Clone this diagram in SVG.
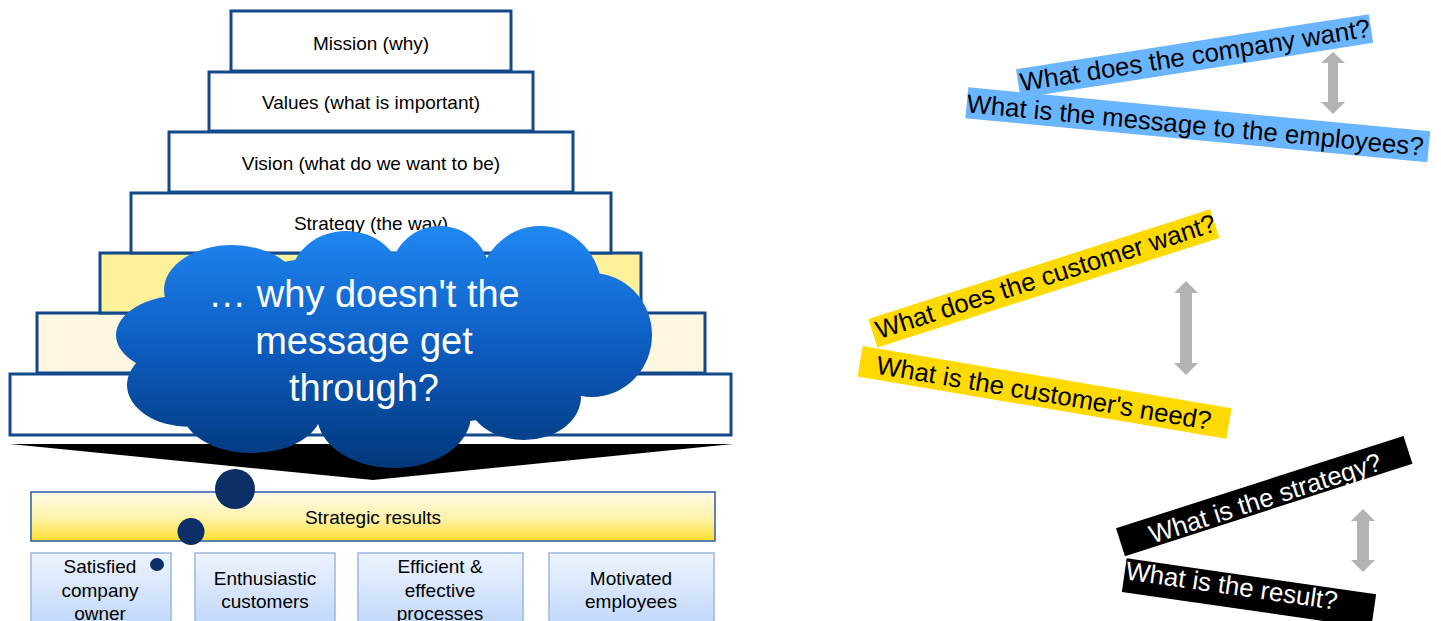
<svg xmlns="http://www.w3.org/2000/svg" width="1441" height="621" viewBox="0 0 1441 621">
<style>
.step{stroke:#12498a;stroke-width:3}
.t{font-family:"Liberation Sans",Arial,sans-serif;font-size:19px;fill:#000;text-anchor:middle}
.q{font-family:"Liberation Sans",Arial,sans-serif;font-size:25.8px;fill:#000}
.qw{font-family:"Liberation Sans",Arial,sans-serif;font-size:25.8px;fill:#fff}
.c{font-family:"Liberation Sans",Arial,sans-serif;font-size:38px;fill:#fff;text-anchor:middle}
.res{fill:url(#gBlue);stroke:#9ab8e0;stroke-width:1.5}
.arr{fill:#b3b3b3}
.dot{fill:#0b2f66}
</style>
<defs>
<linearGradient id="gCloud" gradientUnits="userSpaceOnUse" x1="0" y1="225" x2="0" y2="468">
<stop offset="0" stop-color="#1f88f4"/>
<stop offset="0.5" stop-color="#0d5cc0"/>
<stop offset="1" stop-color="#02387a"/>
</linearGradient>
<linearGradient id="gYel" x1="0" y1="0" x2="0" y2="1">
<stop offset="0" stop-color="#fffbe8"/>
<stop offset="0.55" stop-color="#fff2a8"/>
<stop offset="1" stop-color="#ffdf2e"/>
</linearGradient>
<linearGradient id="gBlue" x1="0" y1="0" x2="0" y2="1">
<stop offset="0" stop-color="#eef4ff"/>
<stop offset="1" stop-color="#bcd5fb"/>
</linearGradient>
</defs>
<rect width="1441" height="621" fill="#fff"/>

<g id="step-white"><rect class="step" x="10" y="374" width="721" height="61" fill="#fff"/></g>
<g id="step-lightyellow"><rect class="step" x="37" y="313" width="668" height="60" fill="#fef8e0"/></g>
<g id="step-yellow"><rect class="step" x="100" y="253" width="541" height="60" fill="#fff09c"/></g>
<g id="strategy"><rect class="step" x="131" y="193" width="480" height="60" fill="#fff"/><text class="t" x="371" y="230">Strategy (the way)</text></g>
<g id="vision"><rect class="step" x="169" y="132" width="404" height="60" fill="#fff"/><text class="t" x="371" y="170">Vision (what do we want to be)</text></g>
<g id="values"><rect class="step" x="209" y="72" width="324" height="59" fill="#fff"/><text class="t" x="371" y="109">Values (what is important)</text></g>
<g id="mission"><rect class="step" x="231" y="11" width="280" height="60" fill="#fff"/><text class="t" x="371" y="50">Mission (why)</text></g>

<g id="funnel"><polygon points="10,444 733,444 373,480" fill="#000"/></g>

<g id="strategic-results"><rect x="31" y="492" width="684" height="49" fill="url(#gYel)" stroke="#2a5ca8" stroke-width="1.5"/><text class="t" x="373" y="524">Strategic results</text></g>

<g id="owner"><rect class="res" x="31" y="553" width="140" height="80"/><text class="t" x="100" y="573">Satisfied</text><text class="t" x="100" y="597">company</text><text class="t" x="100" y="620">owner</text></g>
<g id="customers"><rect class="res" x="195" y="553" width="140" height="80"/><text class="t" x="265" y="585">Enthusiastic</text><text class="t" x="265" y="608">customers</text></g>
<g id="processes"><rect class="res" x="358" y="553" width="165" height="80"/><text class="t" x="440" y="573">Efficient &amp;</text><text class="t" x="440" y="597">effective</text><text class="t" x="440" y="620">processes</text></g>
<g id="employees"><rect class="res" x="549" y="553" width="165" height="80"/><text class="t" x="631" y="585">Motivated</text><text class="t" x="631" y="608">employees</text></g>

<g id="cloud">
<path fill="url(#gCloud)" d="M165,340 a220,88 0 1,0 440,0 a220,88 0 1,0 -440,0 Z
M164,290 a68,45 0 1,0 136,0 a68,45 0 1,0 -136,0 Z
M290,281 a56,50 0 1,0 112,0 a56,50 0 1,0 -112,0 Z
M390,276 a50,50 0 1,0 100,0 a50,50 0 1,0 -100,0 Z
M478,292 a62,66 0 1,0 124,0 a62,66 0 1,0 -124,0 Z
M532,335 a60,62 0 1,0 120,0 a60,62 0 1,0 -120,0 Z
M467,397 a57,43 0 1,0 114,0 a57,43 0 1,0 -114,0 Z
M317,415 a77,53 0 1,0 154,0 a77,53 0 1,0 -154,0 Z
M182,410 a70,43 0 1,0 140,0 a70,43 0 1,0 -140,0 Z
M127,385 a63,42 0 1,0 126,0 a63,42 0 1,0 -126,0 Z
M116,335 a69,40 0 1,0 138,0 a69,40 0 1,0 -138,0 Z"/>
<text class="c" x="364" y="307">… why doesn't the</text>
<text class="c" x="364" y="354">message get</text>
<text class="c" x="364" y="401">through?</text>
<circle class="dot" cx="235" cy="489" r="20"/>
<circle class="dot" cx="191" cy="531.5" r="13.5"/>
<ellipse class="dot" cx="157" cy="564.5" rx="7" ry="6.5"/>
</g>

<g id="q-company-want" transform="translate(1016,69.3) rotate(-8.88)"><rect width="357" height="29" fill="#6ab5ff"/><text class="q" x="2" y="22.5">What does the company want?</text></g>
<g id="q-message" transform="translate(968.3,87.3) rotate(5.44)"><rect width="464" height="31" fill="#6ab5ff"/><text class="q" x="0" y="25">What is the message to the employees?</text></g>
<g id="q-customer-want" transform="translate(868.3,319) rotate(-17.78)"><rect width="359" height="30" fill="#ffda00"/><text class="q" x="4" y="22.5">What does the customer want?</text></g>
<g id="q-customer-need" transform="translate(862.7,346) rotate(9.58)"><rect width="374" height="31" fill="#ffda00"/><text class="q" x="17" y="25">What is the customer's need?</text></g>
<g id="q-strategy" transform="translate(1116,528.3) rotate(-17.82)"><rect width="302" height="29.3" fill="#000"/><text class="qw" x="30" y="26">What is the strategy?</text></g>
<g id="q-result" transform="translate(1126.7,558.3) rotate(8.2)"><rect width="252" height="34" fill="#000"/><text class="qw" x="1" y="21">What is the result?</text></g>

<g id="connectors">
<polygon class="arr" points="1333,52 1345,63 1338,63 1338,102 1345,102 1333,114 1321,102 1328,102 1328,63 1321,63"/>
<polygon class="arr" points="1186,281 1198,293 1192,293 1192,363 1198,363 1186,375 1174,363 1180,363 1180,293 1174,293"/>
<polygon class="arr" points="1363,509 1375,521 1369,521 1369,560 1375,560 1363,572 1351,560 1357,560 1357,521 1351,521"/>
</g>
</svg>
